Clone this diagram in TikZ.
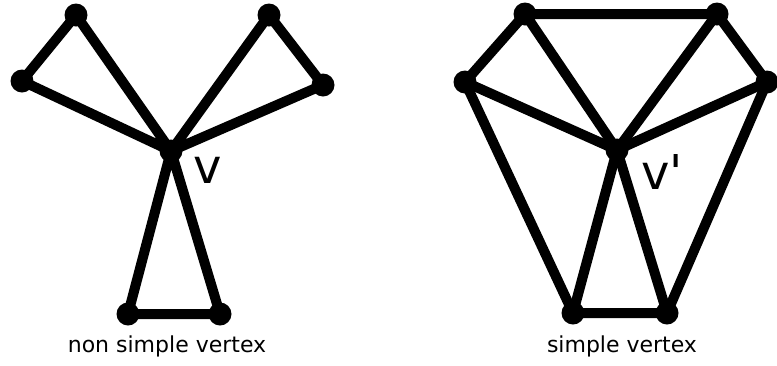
\documentclass[tikz,border=0pt]{standalone}
\usepackage{fontspec}
\setmainfont{DejaVu Sans}
\newfontfamily\labelfont{DejaVu Sans}
\usepackage{tikz}
\usetikzlibrary{positioning,backgrounds}
\tikzset{
    dot/.style={circle, fill=black, inner sep=0pt, minimum size=23pt},
    edge/.style={line width=10pt, line join=round},
    vlabel/.style={font=\labelfont\fontsize{48}{48}\selectfont},
    caption/.style={font=\fontsize{22}{22}\selectfont},
}

\begin{document}
\begin{tikzpicture}[x=1pt, y=-1pt]
    \useasboundingbox (0,0) rectangle (777,365);
    % non simple vertex
    \node[dot] (ltl) at (76,15) {};
    \node[dot] (ll)  at (22,81) {};
    \node[dot] (ltr) at (269,15) {};
    \node[dot] (lr)  at (323,85) {};
    \node[dot] (lv)  at (171,151) {};
    \node[dot] (lbl) at (128,314) {};
    \node[dot] (lbr) at (220,314) {};
    \node[vlabel] (lvlab) at (208,170) {v};
    \node[caption] (lcap) at (167,346) {non simple vertex};
    % simple vertex
    \node[dot] (rtl) at (525,14) {};
    \node[dot] (rtr) at (717,14) {};
    \node[dot] (rl)  at (465,82) {};
    \node[dot] (rr)  at (767,82) {};
    \node[dot] (rv)  at (617,150) {};
    \node[dot] (rbl) at (573,313) {};
    \node[dot] (rbr) at (667,313) {};
    \node[vlabel] (rvlab) at (662,172) {v'};
    \node[caption] (rcap) at (622,346) {simple vertex};
    \begin{scope}[on background layer]
        \draw[edge] (ltl.center) -- (ll.center) -- (lv.center) -- cycle;
        \draw[edge] (ltr.center) -- (lr.center) -- (lv.center) -- cycle;
        \draw[edge] (lbl.center) -- (lbr.center) -- (lv.center) -- cycle;
        \draw[edge] (rtl.center) -- (rtr.center) -- (rr.center) -- (rbr.center)
            -- (rbl.center) -- (rl.center) -- cycle;
        \foreach \n in {rtl,rtr,rr,rbr,rbl,rl}
            \draw[edge] (rv.center) -- (\n.center);
    \end{scope}
\end{tikzpicture}
\end{document}
